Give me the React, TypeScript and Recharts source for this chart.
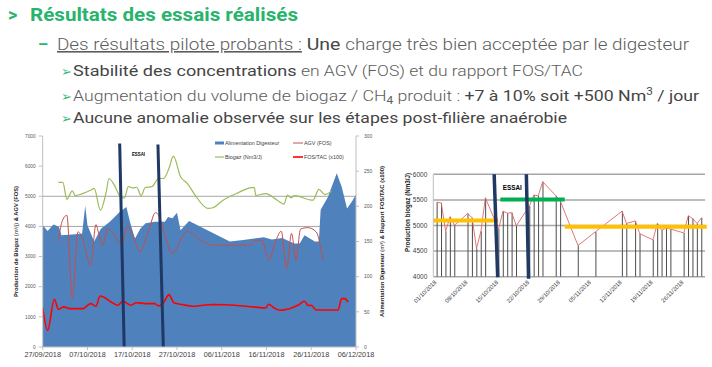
import {
  ComposedChart,
  Area,
  Line,
  Bar,
  XAxis,
  YAxis,
  CartesianGrid,
  ReferenceLine,
  ReferenceDot,
  Legend,
} from 'recharts';

const FONT = '"Liberation Sans", Arial, sans-serif';
const GREEN = '#27b46c';

// ---- left chart (days since 27/09/2018) ----
const leftDates = ['27/09/2018', '07/10/2018', '17/10/2018', '27/10/2018', '06/11/2018', '16/11/2018', '26/11/2018', '06/12/2018'];
const leftTicks = [0, 10, 20, 30, 40, 50, 60, 70];
const biogasTicks = [0, 1000, 2000, 3000, 4000, 5000, 6000, 7000];
const feedTicks = [0, 50, 100, 150, 200, 250, 300];

// Alimentation Digesteur (m3), right axis
const feed = [
  [0, 173], [1.1, 165], [2.4, 174], [3.6, 171], [4.2, 159], [8.8, 161], [9.5, 201], [10, 173],
  [11.5, 150], [13, 168], [15, 178], [17.2, 192], [18.7, 199], [19.5, 178], [20.6, 154], [21.8, 168],
  [23, 176], [25, 178], [27.3, 178], [28, 185], [29, 183], [30, 191], [30.8, 166], [32.7, 179],
  [41.8, 150], [44.8, 152], [49.4, 156], [51.2, 153], [53.5, 155], [56.2, 147], [57.4, 147], [58.5, 159],
  [60.8, 150], [61.7, 150], [62.1, 195], [63.7, 213], [65.7, 247], [66.8, 228], [68, 197], [69.1, 207],
  [70, 217],
];

// Biogaz (Nm3/J), left axis
const biogas = [
  [3.5, 5460], [4.5, 5460], [5.4, 4900], [6.6, 5180], [7.3, 5020], [8.9, 5090], [10.7, 5200], [11.5, 5260],
  [12.9, 4540], [14.2, 5150], [14.8, 5590], [16, 5370], [17.6, 4950], [18.3, 4950], [19.1, 5320], [20.2, 5280],
  [21, 5300], [22, 5020], [22.9, 5290], [24.4, 5320], [25.9, 5590], [27, 5590], [28.2, 5920], [29.2, 6330],
  [30.8, 5650], [32.3, 5430], [34, 5050], [36.9, 4600], [38, 4620], [40.3, 4870], [43.3, 5090], [46.7, 5290],
  [47.3, 5290], [47.6, 5030], [49.8, 5090], [52.4, 4870], [53.9, 4740], [54.7, 5040], [55.5, 4950], [56.2, 5020],
  [60.4, 4870], [61.7, 5230], [63, 5060], [64.5, 5170],
];

// AGV (FOS), left axis
const agv = [
  [3.5, 3490], [4.3, 4150], [5.4, 4370], [6.6, 1610], [7.9, 3820], [8.9, 3600], [10.7, 2710], [11.9, 4060],
  [12.6, 3710], [13.4, 3380], [14.5, 3910], [16, 3710], [17.6, 3380], [18.9, 4010], [20.2, 3710], [21.7, 3160],
  [23.6, 3820], [25.2, 4460], [25.9, 4370], [27.4, 3650], [28.9, 3100], [32.3, 3840], [35.8, 3490], [38, 3380],
  [46.5, 3380], [47.3, 3540], [49, 3540], [50.5, 2880], [52, 3490], [53.3, 3840], [54.5, 2600], [55.6, 3770],
  [56.6, 2880], [57.6, 3910], [59.2, 3960], [61.1, 3820], [62.6, 2880],
];

// FOS/TAC (x100), right axis
const fosTac = [
  [0, 55.5], [1.1, 23.7], [2.6, 67.9], [3.5, 53.6], [4.7, 57], [6, 54.6], [9, 54.6], [10.7, 61.7],
  [11.9, 57.9], [12.8, 72.6], [13.6, 71], [15.3, 64], [16.8, 59.3], [17.9, 65], [19.8, 59.3], [20.9, 63],
  [23, 61.7], [25, 61.7], [25.9, 58.4], [27, 63], [28.2, 74.5], [29.3, 63], [31.2, 60.3], [33.5, 57.9],
  [35.8, 59.3], [38, 60.3], [41, 60], [47.1, 57], [49.8, 55.5], [50.5, 60.8], [51.7, 55.5], [53, 52.2],
  [57, 59.3], [58.5, 65], [59.3, 59], [60, 59.3], [61.1, 52.7], [66, 52.7], [66.8, 68.8], [67.5, 68.8],
  [68.2, 64],
];

// ---- right chart (days since 01/10/2018) ----
const rightDates = ['01/10/2018', '08/10/2018', '15/10/2018', '22/10/2018', '29/10/2018', '05/11/2018', '12/11/2018', '19/11/2018', '26/11/2018'];
const rightTicks = [0, 7, 14, 21, 28, 35, 42, 49, 56];
const prodTicks = [4000, 4500, 5000, 5500, 6000];
const prodDays = [0, 1, 2, 3, 4, 7, 8, 9, 10, 11, 14, 15, 16, 17, 18, 21, 22, 23, 24, 27, 28, 32, 36, 42, 43, 45, 46, 49, 50, 51, 52, 53, 56, 57, 58, 59, 60];
const prodValues = [5455, 5440, 4890, 5170, 5005, 5235, 5150, 4550, 4890, 5540, 4930, 5280, 5240, 5250, 4995, 5380, 5595, 5580, 5856, 5580, 5475, 4610, 4880, 5280, 5040, 5090, 4840, 4720, 5040, 4905, 4955, 4930, 4855, 5190, 5135, 5040, 5150];

function mergeSeries(series: Record<string, number[][]>) {
  const rows = new Map<number, any>();
  Object.entries(series).forEach(([key, pts]) => {
    pts.forEach(([day, v]) => {
      const row = rows.get(day) ?? { day };
      row[key] = v;
      rows.set(day, row);
    });
  });
  return [...rows.values()].sort((a, b) => a.day - b.day);
}

const leftData = mergeSeries({ feed, biogas, agv, fosTac });
const rightData = prodDays.map((day, i) => ({ day, prod: prodValues[i] }));

const essai = (size: number, width: number) => (props: any) => {
  const { viewBox } = props;
  const cx = viewBox.x + viewBox.width / 2;
  const cy = viewBox.y + viewBox.height / 2;
  return (
    <text x={cx - width / 2} y={cy} dy="0.35em" fontSize={size} fontWeight={700} fontFamily={FONT} fill="#000"
      stroke="#fff" strokeWidth={1.2} paintOrder="stroke" textLength={width} lengthAdjust="spacingAndGlyphs">
      ESSAI
    </text>
  );
};

function LeftLegend() {
  const t = { fontSize: 5.4, fill: '#404040', fontFamily: FONT };
  return (
    <svg width={140} height={24}>
      <rect x={2} y={4.5} width={9} height={3} fill="#4f81bd" />
      <text x={12} y={6} dy="0.35em" {...t}>Alimentation Digesteur</text>
      <line x1={80} x2={90} y1={6} y2={6} stroke="#c0504d" strokeWidth={1} />
      <text x={91} y={6} dy="0.35em" {...t}>AGV (FOS)</text>
      <line x1={2} x2={11} y1={20} y2={20} stroke="#9bbb59" strokeWidth={1.2} />
      <text x={12} y={20} dy="0.35em" {...t}>Biogaz (Nm3/J)</text>
      <line x1={80} x2={90} y1={20} y2={20} stroke="#ff0000" strokeWidth={1.6} />
      <text x={91} y={20} dy="0.35em" {...t}>FOS/TAC (x100)</text>
    </svg>
  );
}

function LeftChart() {
  const leftTitle = (props: any) => {
    const { viewBox } = props;
    const x = viewBox.x + 3;
    const y = viewBox.y + viewBox.height / 2;
    return (
      <text x={x} y={y} dy="0.35em" transform={`rotate(-90 ${x} ${y})`} textAnchor="middle" fontSize={5.6}
        fill="#222" fontFamily={FONT} textLength={111} lengthAdjust="spacingAndGlyphs">
        <tspan fontWeight={700}>Production de Biogaz </tspan>
        <tspan>(m³/j)</tspan>
        <tspan fontWeight={700}> &amp; AGV (FOS)</tspan>
      </text>
    );
  };
  const rightTitle = (props: any) => {
    const { viewBox } = props;
    const x = viewBox.x + 26;
    const y = viewBox.y + viewBox.height / 2;
    return (
      <text x={x} y={y} dy="0.35em" transform={`rotate(-90 ${x} ${y})`} textAnchor="middle" fontSize={5.6}
        fill="#222" fontFamily={FONT} textLength={151} lengthAdjust="spacingAndGlyphs">
        <tspan fontWeight={700}>Alimentation Digesteur </tspan>
        <tspan>(m³)</tspan>
        <tspan fontWeight={700}> &amp; Rapport FOS/TAC (x100)</tspan>
      </text>
    );
  };

  return (
    <div style={{ position: 'absolute', left: 0, top: 120 }}>
      <ComposedChart width={400} height={247} data={leftData} margin={{ top: 16, right: 14, bottom: 6, left: 12.7 }}>
        <CartesianGrid yAxisId="left" vertical={false} horizontalValues={[4000, 5000]} stroke="#a6a6a6" />
        <XAxis dataKey="day" type="number" domain={[0, 70]} ticks={leftTicks} allowDataOverflow
          tickFormatter={(d: number) => leftDates[leftTicks.indexOf(d)]} height={14} tickSize={3} tickMargin={2}
          stroke="#bfbfbf" tick={{ fontSize: 7.3, fill: '#404040', fontFamily: FONT }} />
        <YAxis yAxisId="left" domain={[0, 7000]} ticks={biogasTicks} width={30} tickSize={4} tickMargin={3}
          stroke="#bfbfbf" tick={{ fontSize: 4.8, fill: '#595959', fontFamily: FONT }} label={{ content: leftTitle }} />
        <YAxis yAxisId="right" orientation="right" domain={[0, 300]} ticks={feedTicks} width={30} tickSize={3}
          tickMargin={5} stroke="#bfbfbf" tick={{ fontSize: 5, fill: '#595959', fontFamily: FONT }}
          label={{ content: rightTitle }} />
        <Legend verticalAlign="middle" layout="horizontal" content={() => <LeftLegend />}
          wrapperStyle={{ left: 213, top: 17, width: 140, height: 24 }} />
        <Area yAxisId="right" dataKey="feed" type="linear" fill="#4f81bd" fillOpacity={1} stroke="none"
          connectNulls isAnimationActive={false} />
        <Line yAxisId="left" dataKey="biogas" type="monotone" stroke="#9bbb59" strokeWidth={1.2} dot={false}
          connectNulls isAnimationActive={false} />
        <Line yAxisId="left" dataKey="agv" type="monotone" stroke="#c0504d" strokeWidth={1} dot={false}
          connectNulls isAnimationActive={false} />
        <Line yAxisId="right" dataKey="fosTac" type="monotone" stroke="#ff0000" strokeWidth={1.6} dot={false}
          connectNulls isAnimationActive={false} />
        <ReferenceLine yAxisId="left" segment={[{ x: 17.2, y: 6750 }, { x: 18.2, y: 0 }]} stroke="#1f3864"
          strokeWidth={3} ifOverflow="visible" />
        <ReferenceLine yAxisId="left" segment={[{ x: 25.75, y: 6720 }, { x: 26.95, y: 0 }]} stroke="#1f3864"
          strokeWidth={3} ifOverflow="visible" />
        <ReferenceDot yAxisId="left" x={21.4} y={6390} r={0} fill="none" stroke="none"
          label={{ content: essai(5.5, 13) }} />
      </ComposedChart>
    </div>
  );
}

function RightChart() {
  const title = (props: any) => {
    const { viewBox } = props;
    const x = viewBox.x + 5;
    const y = viewBox.y + viewBox.height / 2 - 13;
    return (
      <text x={x} y={y} dy="0.35em" transform={`rotate(-90 ${x} ${y})`} textAnchor="middle" fontSize={7}
        fontWeight={700} fill="#222" fontFamily={FONT} textLength={79} lengthAdjust="spacingAndGlyphs">
        Production biogaz (Nm3/J)
      </text>
    );
  };
  const dateTick = (props: any) => {
    const { x, y, payload } = props;
    return (
      <text x={x} y={y} transform={`rotate(-45 ${x} ${y})`} textAnchor="end" fontSize={5.8} fill="#404040"
        fontFamily={FONT}>
        {rightDates[rightTicks.indexOf(payload.value)]}
      </text>
    );
  };

  return (
    <div style={{ position: 'absolute', left: 400, top: 160 }}>
      <ComposedChart width={312} height={150} data={rightData} margin={{ top: 14.3, right: 7, bottom: 0, left: 3 }}>
        <CartesianGrid vertical={false} stroke="#a6a6a6" strokeWidth={1.5} />
        <XAxis dataKey="day" type="number" domain={[-0.8, 60.8]} ticks={rightTicks} allowDataOverflow
          height={33.3} tickLine={false} axisLine={false} tickSize={2} tickMargin={4} tick={dateTick} />
        <YAxis domain={[4000, 6000]} ticks={prodTicks} allowDataOverflow width={30.3} tickSize={4} tickMargin={2}
          tickLine={false} stroke="#bfbfbf" tick={{ fontSize: 6.5, fill: '#404040', fontFamily: FONT }}
          label={{ content: title }} />
        <Bar dataKey="prod" barSize={1} fill="#4d4d4d" isAnimationActive={false} />
        <Line dataKey="prod" type="linear" stroke="#e06666" strokeWidth={0.9} dot={false} isAnimationActive={false} />
        <ReferenceLine segment={[{ x: -0.8, y: 5100 }, { x: 13.9, y: 5100 }]} stroke="#ffc000" strokeWidth={4}
          ifOverflow="visible" />
        <ReferenceLine segment={[{ x: 14.4, y: 5510 }, { x: 29, y: 5510 }]} stroke="#00b050" strokeWidth={4}
          ifOverflow="visible" />
        <ReferenceLine segment={[{ x: 29, y: 4975 }, { x: 61.2, y: 4975 }]} stroke="#ffc000" strokeWidth={4}
          ifOverflow="visible" />
        <ReferenceLine segment={[{ x: 13, y: 6000 }, { x: 13.8, y: 3990 }]} stroke="#1f3864" strokeWidth={3.5}
          ifOverflow="visible" />
        <ReferenceLine segment={[{ x: 20.3, y: 6000 }, { x: 20.8, y: 3960 }]} stroke="#1f3864" strokeWidth={3.5}
          ifOverflow="visible" />
        <ReferenceDot x={17.1} y={5752} r={0} fill="none" stroke="none" label={{ content: essai(8, 19) }} />
      </ComposedChart>
    </div>
  );
}

function Header() {
  const dark = '#454545';
  const light = '#5c5c5c';
  const arrow = (y: number) => (
    <text x={61} y={y} fontSize={13} fill="#3cb878" fontFamily='"DejaVu Sans", sans-serif'>➢</text>
  );
  return (
    <svg width={712} height={128} style={{ position: 'absolute', left: 0, top: 0 }} fontFamily="Roboto, sans-serif">
      <text x={8} y={21} fontSize={18} fontWeight={700} fill={GREEN}>&gt;</text>
      <text x={30} y={21} fontSize={19} fontWeight={700} fill={GREEN} textLength={268} lengthAdjust="spacingAndGlyphs">
        Résultats des essais réalisés
      </text>

      <text x={38} y={50} fontSize={16} fontWeight={700} fill={GREEN}>–</text>
      <text x={57} y={50} fontSize={16} textLength={632} lengthAdjust="spacingAndGlyphs">
        <tspan fill={light} fontWeight={300} style={{ textDecoration: 'underline' }}>Des résultats pilote probants :</tspan>
        <tspan fill={dark} fontSize={16.5}> Une </tspan>
        <tspan fill={light} fontWeight={300}>charge très bien acceptée par le digesteur</tspan>
      </text>

      {arrow(76)}
      <text x={73} y={76} fontSize={15} textLength={510} lengthAdjust="spacingAndGlyphs">
        <tspan fill={dark}>Stabilité des concentrations</tspan>
        <tspan fill={light} fontWeight={300} fontSize={14.5}> en AGV (FOS) et du rapport FOS/TAC</tspan>
      </text>

      {arrow(100.7)}
      <text x={73} y={100.7} fontSize={15} textLength={626} lengthAdjust="spacingAndGlyphs">
        <tspan fill={light} fontWeight={300}>Augmentation du volume de biogaz / CH</tspan>
        <tspan fill={light} fontSize={10} dy={3}>4</tspan>
        <tspan fill={light} fontWeight={300} dy={-3}> produit : </tspan>
        <tspan fill={dark}>+7 à 10% soit +500 Nm</tspan>
        <tspan fill={dark} fontSize={10} dy={-6}>3</tspan>
        <tspan fill={dark} dy={6}> / jour</tspan>
      </text>

      {arrow(123.3)}
      <text x={73} y={123.3} fontSize={15} fill={dark} textLength={494} lengthAdjust="spacingAndGlyphs">
        Aucune anomalie observée sur les étapes post-filière anaérobie
      </text>
    </svg>
  );
}

export default function App() {
  return (
    <div style={{ position: 'absolute', left: 0, top: 0, width: 712, height: 367, background: '#fff', overflow: 'hidden' }}>
      <Header />
      <LeftChart />
      <RightChart />
    </div>
  );
}
